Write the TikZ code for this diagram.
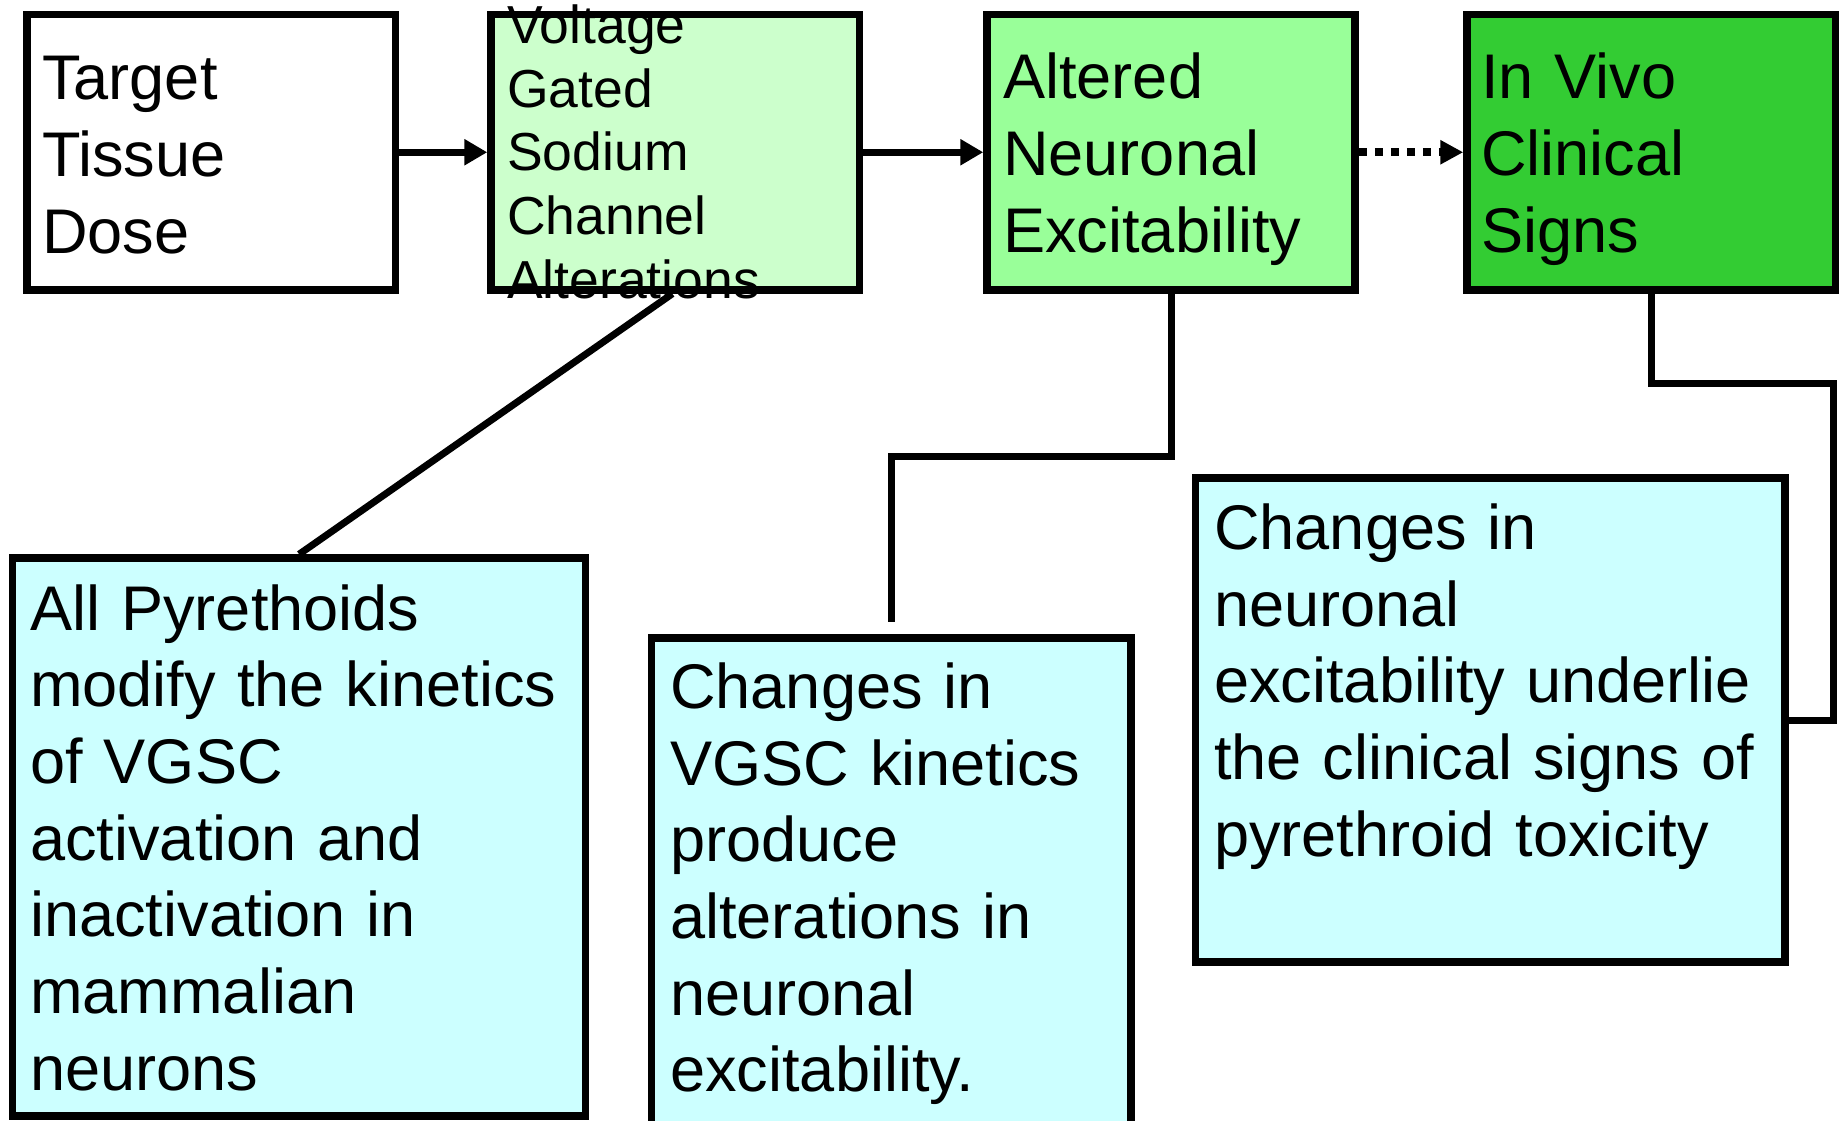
\documentclass[tikz,border=0pt]{standalone}
\usepackage{fontspec}
\setmainfont{Liberation Sans}
\usetikzlibrary{arrows.meta}

\definecolor{paleGreen}{HTML}{CCFFCC}
\definecolor{midGreen}{HTML}{99FF99}
\definecolor{deepGreen}{HTML}{33CC33}
\definecolor{paleCyan}{HTML}{CCFFFF}

\tikzset{
  box/.style={draw=black, line width=7.5pt, inner sep=0pt, outer sep=3.75pt},
  bigtext/.style={inner sep=0pt, anchor=base west, text width=700pt, align=left,
    font=\fontsize{63.1}{76.7}\selectfont},
  smalltext/.style={inner sep=0pt, anchor=base west, text width=500pt, align=left,
    font=\fontsize{53.5}{63.75}\selectfont},
  link/.style={draw=black, line width=7pt},
  flow/.style={link, -{Triangle[length=23pt, width=25pt]}},
  dotflow/.style={link, line width=8pt, dash pattern=on 8.3pt off 7.7pt,
    -{Triangle[length=23pt, width=23pt]}}
}

\begin{document}
\begin{tikzpicture}[x=1pt, y=-1pt]
\useasboundingbox (0,0) rectangle (1841,1121);
\clip (0,0) rectangle (1841,1121);

% top row of process boxes
\node[box, fill=white, minimum width=368.5pt, minimum height=275.5pt] (b1) at (211.25,152.25) {};
\node[box, fill=paleGreen, minimum width=368.7pt, minimum height=275.5pt] (b2) at (675.35,152.25) {};
\node[box, fill=midGreen, minimum width=368pt, minimum height=275.5pt] (b3) at (1171,152.25) {};
\node[box, fill=deepGreen, minimum width=368.5pt, minimum height=275.5pt] (b4) at (1651.25,152.25) {};

\node[bigtext] (t1) at (42,100) {Target\\Tissue\\Dose};
\node[smalltext] (t2) at (507,43.3) {Voltage\\Gated\\Sodium\\Channel\\Alterations};
\node[bigtext] (t3) at (1003,99) {Altered\\Neuronal\\Excitability};
\node[bigtext] (t4) at (1481,99) {In Vivo\\Clinical\\Signs};

% explanatory boxes
\node[box, fill=paleCyan, minimum width=573.2pt, minimum height=558pt] (b5) at (299.1,837) {};
\node[box, fill=paleCyan, minimum width=479.5pt, minimum height=512pt] (b6) at (891.25,894) {};
\node[box, fill=paleCyan, minimum width=589.5pt, minimum height=484pt] (b7) at (1490.25,720) {};

\node[bigtext] (t5) at (30,630) {All Pyrethoids\\modify the kinetics\\of VGSC\\activation and\\inactivation in\\mammalian\\neurons};
\node[bigtext] (t6) at (670,708.3) {Changes in\\VGSC kinetics\\produce\\alterations in\\neuronal\\excitability.};
\node[bigtext] (t7) at (1214,549.3) {Changes in\\neuronal\\excitability underlie\\the clinical signs of\\pyrethroid toxicity};

% arrows along the top row
\draw[flow] (b1.east) -- (b2.west);
\draw[flow] (b2.east) -- (b3.west);
\draw[dotflow] (b3.east) -- (b4.west);

% callout connectors
\coordinate (c2end) at ([yshift=12.5pt]b6.north);
\draw[link] ([xshift=-3pt]b2.south) -- (b5.north);
\draw[link] (b3.south) -- (b3.south |- 0,456.3) -| (c2end);
\draw[link] (b4.south) -- (b4.south |- 0,383.7) -- (1833.5,383.7) |- (b7.east);
\end{tikzpicture}
\end{document}
